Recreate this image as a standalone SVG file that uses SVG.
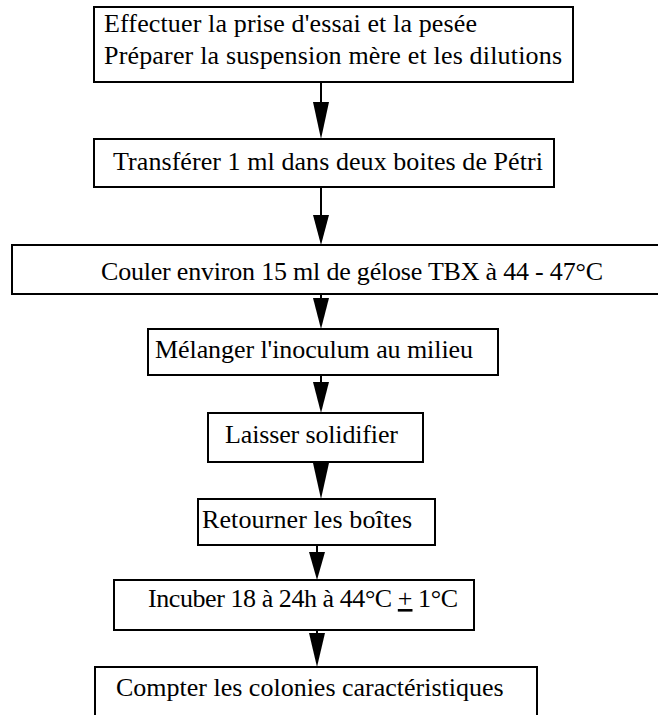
<svg xmlns="http://www.w3.org/2000/svg" width="658" height="715" viewBox="0 0 658 715">
<style>
.box{fill:#fff;stroke:#000;stroke-width:2}
.ln{stroke:#000;stroke-width:2;fill:none}
.hd{fill:#000;stroke:none}
</style>
<rect width="658" height="715" fill="#fff"/>
<g id="connectors">
<line class="ln" x1="321" y1="82" x2="321" y2="104"/><polygon class="hd" points="313,102 329,102 321,139"/>
<line class="ln" x1="321" y1="187" x2="321" y2="217"/><polygon class="hd" points="313,215 329,215 321,245"/>
<line class="ln" x1="321" y1="290" x2="321" y2="300"/><polygon class="hd" points="313,298 329,298 321,329"/>
<line class="ln" x1="321" y1="371" x2="321" y2="384"/><polygon class="hd" points="313,382 329,382 321,413"/>
<line class="ln" x1="321" y1="460" x2="321" y2="465"/><polygon class="hd" points="313,463 329,463 321,499"/>
<line class="ln" x1="317" y1="542" x2="317" y2="554"/><polygon class="hd" points="309,552 325,552 317,580"/>
<line class="ln" x1="317" y1="626" x2="317" y2="635"/><polygon class="hd" points="309,633 325,633 317,667"/>
</g>
<g font-size="26" fill="#000">
<g id="n1"><rect class="box" x="94" y="7" width="479" height="75"/>
<text font-family="Liberation Serif" x="104" y="32" textLength="373" lengthAdjust="spacing">Effectuer la prise d'essai et la pesée</text>
<text font-family="Liberation Serif" x="104" y="64" textLength="458" lengthAdjust="spacing">Préparer la suspension mère et les dilutions</text></g>
<g id="n2"><rect class="box" x="94" y="139" width="460" height="48"/>
<text font-family="Liberation Serif" x="113" y="170" textLength="430" lengthAdjust="spacing">Transférer 1 ml dans deux boites de Pétri</text></g>
<g id="n3"><rect class="box" x="12" y="245" width="660" height="49"/>
<text font-family="Liberation Serif" x="101" y="280" textLength="502" lengthAdjust="spacing">Couler environ 15 ml de gélose TBX à 44 - 47°C</text></g>
<g id="n4"><rect class="box" x="148" y="329" width="350" height="46"/>
<text font-family="Liberation Serif" x="155" y="358" textLength="318" lengthAdjust="spacing">Mélanger l'inoculum au milieu</text></g>
<g id="n5"><rect class="box" x="208" y="413" width="215" height="49"/>
<text font-family="Liberation Serif" x="225" y="443" textLength="173" lengthAdjust="spacing">Laisser solidifier</text></g>
<g id="n6"><rect class="box" x="198" y="499" width="237" height="46"/>
<text font-family="Liberation Serif" x="202" y="528" textLength="210" lengthAdjust="spacing">Retourner les boîtes</text></g>
<g id="n7"><rect class="box" x="114" y="580" width="360" height="50"/>
<text font-family="Liberation Serif" x="148" y="607" textLength="310" lengthAdjust="spacing">Incuber 18 à 24h à 44°C <tspan text-decoration="underline">+</tspan> 1°C</text></g>
<g id="n8"><rect class="box" x="95" y="667" width="442" height="55"/>
<text font-family="Liberation Serif" x="116" y="696">Compter les colonies caractéristiques</text></g>
</g>
</svg>
